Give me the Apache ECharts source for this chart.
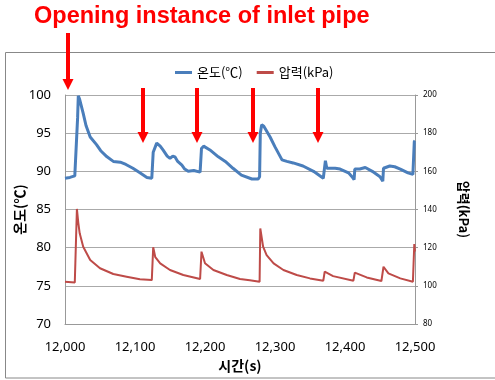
<!DOCTYPE html>
<html><head><meta charset="utf-8">
<script src="https://cdn.jsdelivr.net/npm/echarts@6/dist/echarts.min.js"></script>
<style>html,body{margin:0;padding:0;background:#fff}#c{width:495px;height:380px}</style>
</head><body><div id="c"></div>
<script>
const titleText = 'Opening instance of inlet pipe';
const tempName = '온도(℃)';
const presName = '압력(kPa)';
const xName = '시간(s)';
const leftAxisName = '온도(℃)';
const rightAxisName = '압력(kPa)';

const tempTime = [12000,12007,12014,12016,12018,12019,12021,12026,12030,12036,12045,12051,12060,12069,12079,12087,12097,12107,12117,12124,12125,12126,12131,12136,12140,12146,12150,12154,12157,12161,12167,12171,12176,12184,12193,12194,12195,12198,12207,12219,12229,12240,12252,12267,12276,12278,12279,12281,12284,12293,12300,12310,12317,12326,12340,12355,12369,12371,12372,12374,12386,12393,12405,12410,12413,12414,12421,12429,12439,12450,12454,12455,12464,12471,12479,12490,12497,12498,12499,12500];
const tempValue = [89.1,89.2,89.4,89.5,97.0,99.9,99.4,97.6,96.0,94.5,93.5,92.7,91.9,91.3,91.2,90.9,90.4,89.8,89.2,89.1,89.2,92.5,93.7,93.3,92.8,92.0,91.7,92.0,91.9,91.3,90.8,90.3,90.0,90.1,89.9,90.0,93.0,93.3,92.8,91.9,91.3,90.4,89.5,89.0,89.0,89.3,95.0,96.1,95.9,94.5,93.2,91.5,91.3,91.1,90.7,90.0,89.1,89.3,91.4,90.4,90.4,90.3,89.8,89.3,88.9,90.3,90.3,90.5,90.0,89.3,88.7,90.4,90.7,90.6,90.3,89.8,89.6,89.7,93.9,94.0];

const presTime = [12000,12014,12016,12017,12019,12021,12026,12036,12050,12069,12088,12107,12124,12125,12126,12129,12136,12150,12169,12193,12194,12195,12200,12212,12231,12250,12264,12278,12279,12283,12288,12298,12312,12331,12350,12369,12370,12371,12383,12412,12413,12414,12431,12452,12454,12455,12462,12479,12497,12498,12499,12500];
const presValue = [102.1,101.8,101.9,140.3,133.0,127.5,120.5,113.5,109.2,106.2,104.8,103.4,103.0,103.1,120.2,115.0,111.8,108.3,105.7,103.6,103.7,117.9,111.8,108.3,105.7,103.6,102.9,102.1,130.1,120.5,116.1,111.8,108.3,105.7,103.9,102.7,102.7,107.4,105.1,102.7,102.8,106.9,104.4,102.5,102.6,110.0,106.5,103.9,102.1,102.2,121.9,118.0];

const arrowTimes = [12004,12111,12189,12268,12361];

const chart = echarts.init(document.getElementById('c'));
const numFont = 'Noto Sans';
const krFont = 'Noto Sans CJK KR';
const fmtComma = v => String(v).replace(/\B(?=(\d{3})+(?!\d))/g, ',');

chart.setOption({
  animation: false,
  backgroundColor: '#fff',
  title: {
    text: titleText, left: 34, top: 5, padding: 0,
    textStyle: {color: '#ff0000', fontSize: 23.5, fontWeight: 'bold', fontFamily: 'Liberation Sans'}
  },
  legend: {
    left: 170, top: 61, itemWidth: 17, itemHeight: 3, itemGap: 14,
    icon: 'rect',
    textStyle: {fontFamily: krFont, fontSize: 13, color: '#000'},
    data: [tempName, presName]
  },
  grid: {left: 65, right: 80, top: 95, bottom: 56, outerBoundsMode: 'none', containLabel: false},
  xAxis: {
    type: 'value', min: 12000, max: 12500, interval: 100,
    name: xName, nameLocation: 'middle', nameGap: 35, nameMoveOverlap: false,
    nameTextStyle: {fontFamily: krFont, fontSize: 14, fontWeight: 'bold', color: '#000'},
    axisLine: {show: true, lineStyle: {color: '#999'}},
    axisTick: {show: false},
    splitLine: {show: false},
    axisLabel: {margin: 17, color: '#000', fontFamily: numFont, fontSize: 13, formatter: fmtComma}
  },
  yAxis: [{
    type: 'value', min: 70, max: 100, interval: 5,
    name: leftAxisName, nameLocation: 'middle', nameGap: 38, nameRotate: 90, nameMoveOverlap: false,
    nameTextStyle: {fontFamily: krFont, fontSize: 14, fontWeight: 'bold', color: '#000'},
    axisLine: {show: true, lineStyle: {color: '#999'}},
    axisTick: {show: false},
    splitLine: {lineStyle: {color: '#aaa'}},
    axisLabel: {margin: 14, color: '#000', fontFamily: numFont, fontSize: 13}
  }, {
    type: 'value', min: 80, max: 200, interval: 20, position: 'right',
    name: rightAxisName, nameLocation: 'middle', nameGap: 42, nameRotate: -90, nameMoveOverlap: false,
    nameTextStyle: {fontFamily: krFont, fontSize: 13, fontWeight: 'bold', color: '#000'},
    axisLine: {show: true, lineStyle: {color: '#999'}},
    axisTick: {show: true, length: 3, lineStyle: {color: '#999'}},
    splitLine: {show: false},
    axisLabel: {margin: 8, color: '#000', fontFamily: numFont, fontSize: 8}
  }],
  series: [{
    name: tempName, type: 'line', yAxisIndex: 0, showSymbol: false, symbol: 'none',
    color: '#4a7ebb', lineStyle: {width: 3, color: '#4a7ebb'},
    data: tempTime.map((t, i) => [t, tempValue[i]])
  }, {
    name: presName, type: 'line', yAxisIndex: 1, showSymbol: false, symbol: 'none',
    color: '#be4b48', lineStyle: {width: 2, color: '#be4b48'},
    data: presTime.map((t, i) => [t, presValue[i]])
  }]
});

const arrows = [];
arrowTimes.forEach((t, i) => {
  const x = Math.round(chart.convertToPixel({xAxisIndex: 0}, t));
  const top = i === 0 ? 33 : 88;
  const tip = i === 0 ? 90 : 143;
  const headH = 11;
  arrows.push({type: 'rect', silent: true, shape: {x: x - 2, y: top, width: 4, height: tip - headH - top + 1}, style: {fill: '#ff0000'}});
  arrows.push({type: 'polygon', silent: true, shape: {points: [[x - 5.5, tip - headH], [x + 5.5, tip - headH], [x, tip]]}, style: {fill: '#ff0000'}});
});
arrows.push({type: 'rect', silent: true, z: -1, shape: {x: 5.5, y: 52.5, width: 500, height: 325.5}, style: {fill: 'none', stroke: '#888', lineWidth: 1}});
chart.setOption({graphic: arrows});
</script>
</body></html>
